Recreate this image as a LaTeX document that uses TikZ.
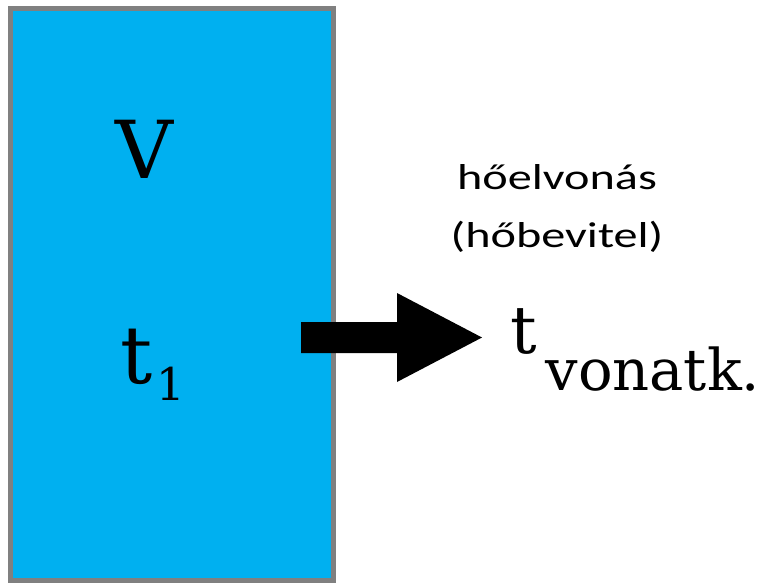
\documentclass[tikz,border=0pt]{standalone}
\usepackage{fontspec}
\usepackage{graphicx}
\setmainfont{DejaVu Serif}
\newfontfamily\sansf{Carlito}
\definecolor{boxblue}{HTML}{00B0F0}
\definecolor{boxgray}{HTML}{808080}
\tikzset{
  lbl/.style={inner sep=0pt, outer sep=0pt, text=black},
  vessel/.style={draw=boxgray, line width=5pt, fill=boxblue},
  blockarrow/.style={fill=black},
}
\begin{document}
\begin{tikzpicture}[x=1pt,y=-1pt]
\useasboundingbox (0,0) rectangle (766,582);
\draw[vessel] (10.5,8) rectangle (333.5,580);
\node[lbl, anchor=base] (V) at (144,178) {\fontsize{80}{80}\selectfont V};
\node[lbl, anchor=base west] (t1) at (120,383) {\fontsize{80}{80}\selectfont t\hspace{4pt}\raisebox{-17pt}{\fontsize{45}{45}\selectfont 1}};
\fill[blockarrow] (301,322) -- (397,322) -- (397,293) -- (482,337.5) -- (397,382) -- (397,353) -- (301,353) -- cycle;
\node[lbl, anchor=base west] (tv) at (510,353) {\fontsize{66}{66}\selectfont t\hspace{9pt}\raisebox{-37pt}{\fontsize{57.5}{57.5}\selectfont vonatk.}};
\node[lbl, anchor=base, align=center, font={\sansf\fontsize{36}{58}\selectfont}] (heat) at (557,247) {\scalebox{1.34}[1]{hőelvonás}\\\scalebox{1.34}[1]{(hőbevitel)}};
\end{tikzpicture}
\end{document}
